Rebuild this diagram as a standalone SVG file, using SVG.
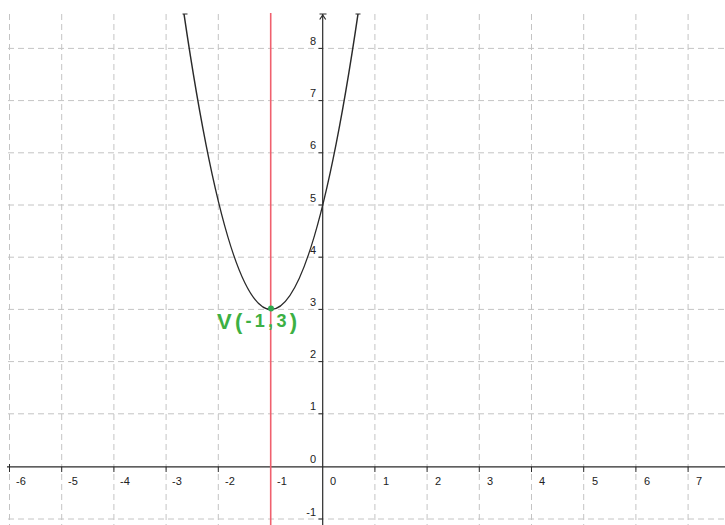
<svg xmlns="http://www.w3.org/2000/svg" width="725" height="525" viewBox="0 0 725 525">
<style>
.grid{stroke:#c4c4c4;stroke-width:1;stroke-dasharray:6,4;fill:none}
.axis{stroke:#2a2a2a;stroke-width:1.2;fill:none}
.tick{stroke:#2a2a2a;stroke-width:1}
.lbl{font-family:"Liberation Sans",Arial,sans-serif;font-size:11px;fill:#222}
.ylbl{font-family:"Liberation Sans",Arial,sans-serif;font-size:11px;fill:#222;text-anchor:end}
.vl{font-family:"Liberation Sans",Arial,sans-serif;fill:#3cb043;font-weight:bold}
</style>
<rect width="725" height="525" fill="#ffffff"/>
<g id="grid">
<path class="grid" d="M9.5 14V525M61.7 14V525M113.9 14V525M166.1 14V525M218.3 14V525M270.5 14V525M374.9 14V525M427.1 14V525M479.3 14V525M531.5 14V525M583.7 14V525M635.9 14V525M688.1 14V525"/>
<path class="grid" d="M8 48.4H725M8 100.6H725M8 152.8H725M8 205H725M8 257.2H725M8 309.4H725M8 361.6H725M8 413.8H725M8 519H725"/>
</g>
<g id="axes">
<path class="axis" d="M7 466.8H725"/>
<path class="axis" d="M322.7 14V525"/>
<path class="axis" d="M319.7 19.5L322.7 15L325.7 19.5"/>
<path class="tick" d="M319.5 14H326.5"/>
<path class="tick" d="M9.5 464V472M61.7 466.8V472M113.9 466.8V472M166.1 466.8V472M218.3 466.8V472M270.5 466.8V472M374.9 466.8V472M427.1 466.8V472M479.3 466.8V472M531.5 466.8V472M583.7 466.8V472M635.9 466.8V472M688.1 466.8V472"/>
<path class="tick" d="M318.5 48.4H322.7M318.5 100.6H322.7M318.5 152.8H322.7M318.5 205H322.7M318.5 257.2H322.7M318.5 309.4H322.7M318.5 361.6H322.7M318.5 413.8H322.7M318.5 519H322.7"/>
</g>
<g id="x-labels">
<text class="lbl" x="16" y="485">-6</text>
<text class="lbl" x="68" y="485">-5</text>
<text class="lbl" x="120" y="485">-4</text>
<text class="lbl" x="172" y="485">-3</text>
<text class="lbl" x="225" y="485">-2</text>
<text class="lbl" x="277" y="485">-1</text>
<text class="lbl" x="330" y="485">0</text>
<text class="lbl" x="383" y="485">1</text>
<text class="lbl" x="435" y="485">2</text>
<text class="lbl" x="487" y="485">3</text>
<text class="lbl" x="539" y="485">4</text>
<text class="lbl" x="592" y="485">5</text>
<text class="lbl" x="644" y="485">6</text>
<text class="lbl" x="696" y="485">7</text>
</g>
<g id="y-labels">
<text class="ylbl" x="316" y="45">8</text>
<text class="ylbl" x="316" y="97">7</text>
<text class="ylbl" x="316" y="149">6</text>
<text class="ylbl" x="316" y="202">5</text>
<text class="ylbl" x="316" y="254">4</text>
<text class="ylbl" x="316" y="306">3</text>
<text class="ylbl" x="316" y="358">2</text>
<text class="ylbl" x="316" y="410">1</text>
<text class="ylbl" x="316" y="463">0</text>
<text class="ylbl" x="316" y="516">-1</text>
</g>
<g id="axis-of-symmetry">
<path d="M270.7 13V525" stroke="#f0606e" stroke-width="1.6" fill="none"/>
</g>
<g id="parabola">
<path d="M184 14Q271 605 358 14" stroke="#2a2a2a" stroke-width="1.5" fill="none"/>
<path d="M182.5 14H187.5M355.5 14H360.5" stroke="#2a2a2a" stroke-width="1"/>
</g>
<g id="vertex">
<circle cx="271" cy="308.5" r="3" fill="#2fa84f"/>
<text class="vl" x="217" y="329" font-size="22" textLength="80" lengthAdjust="spacing">V(<tspan font-size="18" dy="-2">-1,3</tspan><tspan dy="2">)</tspan></text>
</g>
</svg>
